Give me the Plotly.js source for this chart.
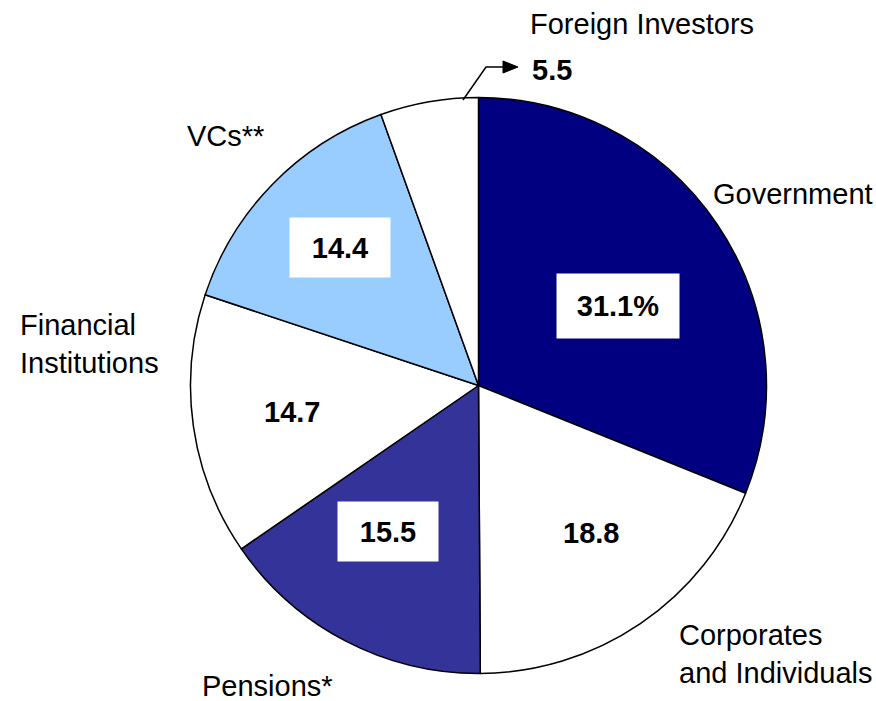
<!DOCTYPE html>
<html>
<head>
<meta charset="utf-8">
<script src="https://cdn.plot.ly/plotly-3.0.1.min.js"></script>
<style>html,body{margin:0;padding:0;background:#fff;}#chart{width:876px;height:701px;}</style>
</head>
<body>
<div id="chart"></div>
<script>
// ---- data ----
var categories = ["Government", "Corporates<br>and Individuals", "Pensions*", "Financial<br>Institutions", "VCs**", "Foreign Investors"];
var values = [31.1, 18.8, 15.5, 14.7, 14.4, 5.5];
var valueLabels = ["31.1%", "18.8", "15.5", "14.7", "14.4", "5.5"];

// ---- styles / layout ----
var W = 876, H = 701;
var cx = 478.5, cy = 385.5, R = 288;
var colors = ["#000080", "#FFFFFF", "#333399", "#FFFFFF", "#99CCFF", "#FFFFFF"];
var FONT = "Liberation Sans, Arial, sans-serif";
var FS = 29;
// inner value label placement (fraction of radius, angular nudge in degrees)
var innerR = [0.558, 0.645, 0.598, 0.654, 0.68];
var innerNudge = [4.2, -3, 4.2, 0, 0.7];
var innerBox = [[122, 64], [0, 0], [100, 59], [0, 0], [100, 59]];
// outer category label pixel anchors
var outerPos = [
  {x: 711, y: 194, xa: "left"},
  {x: 677, y: 654, xa: "left"},
  {x: 267, y: 686, xa: "center"},
  {x: 18, y: 344, xa: "left"},
  {x: 225, y: 136, xa: "center"},
  {x: 642, y: 24, xa: "center"}
];

function PX(x) { return x / W; }
function PY(y) { return 1 - y / H; }

var total = values.reduce(function (a, b) { return a + b; }, 0);
var annotations = [];
var cum = 0;
for (var i = 0; i < values.length; i++) {
  var mid = (cum + values[i] / 2) / total * 360;
  cum += values[i];
  if (i < innerR.length) {
    var ang = (mid + innerNudge[i]) * Math.PI / 180;
    var x = cx + Math.sin(ang) * R * innerR[i];
    var y = cy - Math.cos(ang) * R * innerR[i];
    var a = {
      xref: "paper", yref: "paper", x: PX(x), y: PY(y),
      xanchor: "center", yanchor: "middle", showarrow: false,
      text: "<b>" + valueLabels[i] + "</b>",
      font: {family: FONT, size: FS, color: "#000"}
    };
    if (innerBox[i][0] > 0) {
      a.bgcolor = "#FFFFFF"; a.borderpad = 0;
      a.width = innerBox[i][0]; a.height = innerBox[i][1];
    }
    annotations.push(a);
  }
  annotations.push({
    xref: "paper", yref: "paper", x: PX(outerPos[i].x), y: PY(outerPos[i].y),
    xanchor: outerPos[i].xa, yanchor: "middle", align: "left", showarrow: false,
    text: categories[i],
    font: {family: FONT, size: FS, color: "#000"}
  });
}
// Foreign investors value (outside with arrow)
annotations.push({
  xref: "paper", yref: "paper", x: PX(530), y: PY(70),
  xanchor: "left", yanchor: "middle", showarrow: false,
  text: "<b>" + valueLabels[5] + "</b>",
  font: {family: FONT, size: FS, color: "#000"}
});

var shapes = [
  {type: "path", xref: "paper", yref: "paper",
   path: "M" + PX(463) + "," + PY(100) + " L" + PX(486) + "," + PY(67) + " L" + PX(506) + "," + PY(67),
   line: {color: "#000", width: 1.5}},
  {type: "path", xref: "paper", yref: "paper",
   path: "M" + PX(503) + "," + PY(61) + " L" + PX(518) + "," + PY(67) + " L" + PX(503) + "," + PY(73) + " Z",
   fillcolor: "#000", line: {color: "#000", width: 1}}
];

var trace = {
  type: "pie",
  labels: categories,
  values: values,
  sort: false,
  direction: "clockwise",
  rotation: 0,
  textinfo: "none",
  hoverinfo: "label+value",
  marker: {colors: colors, line: {color: "#000", width: 1.5}},
  domain: {x: [PX(cx - R), PX(cx + R)], y: [PY(cy + R), PY(cy - R)]}
};

var layout = {
  width: W, height: H,
  margin: {l: 0, r: 0, t: 0, b: 0},
  paper_bgcolor: "#FFFFFF",
  showlegend: false,
  annotations: annotations,
  shapes: shapes
};

Plotly.newPlot("chart", [trace], layout, {staticPlot: true});
</script>
</body>
</html>
